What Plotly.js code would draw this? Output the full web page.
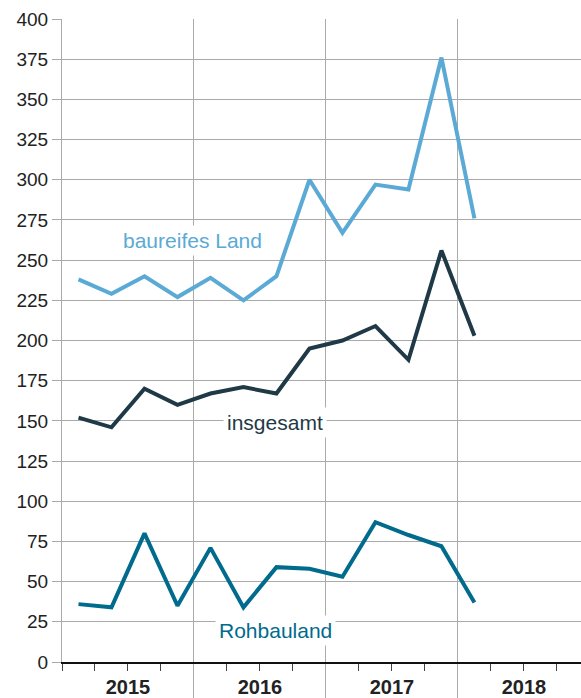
<!DOCTYPE html>
<html><head><meta charset="utf-8">
<script src="https://cdn.plot.ly/plotly-3.0.1.min.js"></script>
<style>html,body{margin:0;padding:0;background:#fff}#chart{width:581px;height:698px}</style>
</head><body><div id="chart"></div>
<script>
// quarters 2015 Q1 .. 2018 Q1 (index 0..12)
const quarters = [0,1,2,3,4,5,6,7,8,9,10,11,12];
const baureifesLand = [238,229,240,227,239,225,240,300,267,297,294,376,276];
const insgesamt = [152,146,170,160,167,171,167,195,200,209,188,256,203];
const rohbauland = [36,34,80,35,71,34,59,58,53,87,79,72,37];
const yearLabels = ['2015','2016','2017','2018'];
const yearCenters = [1.5,5.5,9.5,13.5];
const yearBounds = [3.5,7.5,11.5,15.5];
const yTicks = [0,25,50,75,100,125,150,175,200,225,250,275,300,325,350,375,400];

const cLight = '#5aaad5', cDark = '#1f3a46', cTeal = '#006b8c';
const fontFam = '"Liberation Sans", Arial, Helvetica, sans-serif';

const traces = [
  {x: quarters, y: baureifesLand, mode:'lines', line:{color:cLight,width:4}, hoverinfo:'skip'},
  {x: quarters, y: insgesamt, mode:'lines', line:{color:cDark,width:4}, hoverinfo:'skip'},
  {x: quarters, y: rohbauland, mode:'lines', line:{color:cTeal,width:4}, hoverinfo:'skip'},
  {x: yearCenters, y: [0,0,0,0], xaxis:'x2', mode:'lines', line:{width:0}, showlegend:false, hoverinfo:'skip'}
];

const layout = {
  width:581, height:698,
  margin:{l:62, r:0, t:19, b:36},
  paper_bgcolor:'#fff', plot_bgcolor:'#fff',
  showlegend:false,
  font:{family:fontFam, color:'#222', size:19},
  xaxis:{
    range:[-0.5,15.23], tickmode:'array', tickvals:yearBounds, showticklabels:false,
    ticks:'outside', ticklen:36, tickcolor:'#aaaaaa', tickwidth:1,
    showgrid:true, gridcolor:'#aaaaaa', gridwidth:1,
    showline:true, linecolor:'#111', linewidth:2, zeroline:false,
    minor:{tickmode:'linear', tick0:-0.5, dtick:1, ticks:'outside', ticklen:7, tickcolor:'#444', tickwidth:1, showgrid:false},
    fixedrange:true
  },
  xaxis2:{
    overlaying:'x', matches:'x', range:[-0.5,15.23], tickmode:'array', tickvals:yearCenters, ticktext:yearLabels,
    side:'bottom', ticks:'', showgrid:false, showline:false, zeroline:false, ticklabelstandoff:11,
    tickfont:{family:fontFam, size:20, color:'#222', weight:'bold'}
  },
  yaxis:{
    range:[0,400], tickmode:'array', tickvals:yTicks, ticktext:yTicks.map(String),
    ticks:'outside', ticklen:9, tickcolor:'#aaaaaa', tickwidth:1,
    showgrid:true, gridcolor:'#aaaaaa', gridwidth:1,
    showline:true, linecolor:'#aaaaaa', linewidth:1, zeroline:false,
    tickfont:{family:fontFam, size:19, color:'#222'}, fixedrange:true
  },
  annotations:[
    {x:3.44, y:262.5, xref:'x', yref:'y', text:'baureifes Land', showarrow:false, font:{family:fontFam,size:21,color:cLight}, bgcolor:'#fff', borderpad:3},
    {x:5.95, y:149, xref:'x', yref:'y', text:'insgesamt', showarrow:false, font:{family:fontFam,size:21,color:cDark}, bgcolor:'#fff', borderpad:3},
    {x:5.98, y:19.3, xref:'x', yref:'y', text:'Rohbauland', showarrow:false, font:{family:fontFam,size:21,color:cTeal}, bgcolor:'#fff', borderpad:3}
  ]
};
Plotly.newPlot('chart', traces, layout, {staticPlot:true, displayModeBar:false});
</script></body></html>
